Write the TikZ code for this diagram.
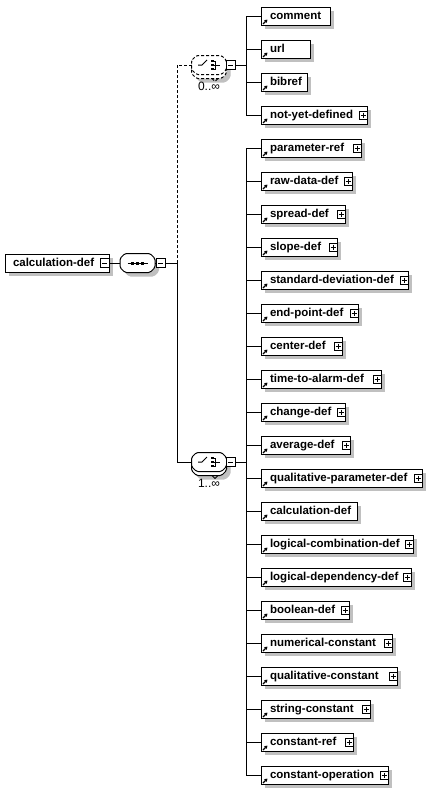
\documentclass[tikz,border=0pt]{standalone}
\usepackage{fontspec}
\setmainfont{Liberation Sans}
\usetikzlibrary{arrows.meta,shadows}
\definecolor{shadowgray}{RGB}{192,192,192}

\newcommand\xelem[5]{%
  \node[elembox, minimum width={#3-261}] (#1) at (261,#2) {};
  \node[elemtext] (#1-t) at (270,#2+3) {#4};
  \draw[refarrow] (263,#2+8) -- (267.5,#2+3.5);
  \draw (#1.west) -- (#1.west -| #5);
}
\newcommand\xelemp[5]{%
  \xelem{#1}{#2}{#3}{#4}{#5}%
  \node[btnplus] (#1-b) at (#3-4,#2) {};
}

\begin{document}
\begin{tikzpicture}[x=1pt,y=-1pt,line width=1pt,
  every node/.style={inner sep=0pt, outer sep=0pt},
  elembox/.style={draw=black, fill=white, minimum height=18pt, anchor=west,
    general shadow={shadow xshift=4pt, shadow yshift=-4pt, fill=shadowgray}},
  elemtext/.style={anchor=base west, font=\fontsize{11.5}{13}\selectfont\bfseries},
  refarrow/.style={line width=1.2pt, -{Triangle[length=3pt,width=3.5pt]}},
  btnbase/.style={draw=black, fill=white, minimum size=8pt, line width=1pt},
  btnplus/.style={btnbase, path picture={
      \draw[line width=1pt] ([xshift=1.5pt]path picture bounding box.west) -- ([xshift=-1.5pt]path picture bounding box.east);
      \draw[line width=1pt] ([yshift=-1.5pt]path picture bounding box.north) -- ([yshift=1.5pt]path picture bounding box.south);}},
  btnminus/.style={btnbase, minimum size=9pt, path picture={
      \draw[line width=1pt] ([xshift=2pt]path picture bounding box.west) -- ([xshift=-2pt]path picture bounding box.east);}},
  compnode/.style={minimum width=35pt, minimum height=19pt},
  optline/.style={dash pattern=on 3pt off 2pt},
  multlabel/.style={font=\fontsize{12}{14}\selectfont},
  octagon/.pic={\path[pic actions, rounded corners=1.5pt] (-17.5,-4.5) -- (-12.5,-9.5) -- (12.5,-9.5) -- (17.5,-4.5) -- (17.5,4.5) -- (12.5,9.5) -- (-12.5,9.5) -- (-17.5,4.5) -- cycle;},
  seqsym/.pic={\draw (-10,0) -- (10,0);
     \fill (-6.5,-1.5) rectangle (-3.5,1.5);
     \fill (-1.5,-1.5) rectangle (1.5,1.5);
     \fill (3.5,-1.5) rectangle (6.5,1.5);},
  choicesym/.pic={\draw (-11,0) -- (-7,0) -- (-2,-5);
     \fill (2,-5.25) rectangle (4.5,-2.75);
     \fill (2,-1.25) rectangle (4.5,1.25);
     \fill (2,2.75) rectangle (4.5,5.25);
     \draw (4.5,-4) -- (6.5,-4) -- (6.5,4) -- (4.5,4);
     \draw (4.5,0) -- (11,0);},
  notch/.pic={\path[pic actions] (-3,0) -- (0,3) -- (3,0);}
]
\useasboundingbox (0,0) rectangle (442,790);

% root element
\node[elembox, minimum width=104pt] (root) at (5,263) {};
\node[elemtext] (root-t) at (13,266.5) {calculation-def};
\node[btnminus] (root-b) at (104.5,263) {};

% sequence compositor
\pic[fill=shadowgray] at (141.5,267) {octagon};
\pic[draw=black, fill=white] at (137.5,263) {octagon};
\node[compnode] (seq) at (137.5,263) {};
\pic at (137.5,263) {seqsym};
\node[btnminus] (seq-b) at (160.5,263) {};

% sequence bus coordinates
\coordinate (sb-mid) at (177,263);
\coordinate (sb-top) at (177,65);
\coordinate (sb-bot) at (177,462);

% choice 1 (optional, 0..unbounded)
\pic[fill=shadowgray] at (213,73) {octagon};
\pic[draw=black, fill=white, optline] at (209,69) {octagon};
\pic[draw=black, fill=white, optline] at (209,65) {octagon};
\pic[draw=black, optline] at (215,78.5) {notch};
\node[compnode] (ch1) at (209,65) {};
\pic at (209,65) {choicesym};
\node[btnminus] (ch1-b) at (230.5,65) {};
\node[multlabel] (ch1-m) at (209,86) {0..∞};

% choice 2 (1..unbounded)
\pic[fill=shadowgray] at (213,470) {octagon};
\pic[draw=black, fill=white] at (209,466) {octagon};
\pic[draw=black, fill=white] at (209,462) {octagon};
\pic[draw=black] at (215,475.5) {notch};
\node[compnode] (ch2) at (209,462) {};
\pic at (209,462) {choicesym};
\node[btnminus] (ch2-b) at (230.5,462) {};
\node[multlabel] (ch2-m) at (209,483) {1..∞};

% choice buses
\coordinate (b1) at (246,65);
\coordinate (b2) at (246,462);

% connectors on the left
\draw (root-b.east) -- (seq.west);
\draw (seq.east) -- (seq-b.west);
\draw (seq-b.east) -- (sb-mid);
\draw[optline] (sb-mid) -- (sb-top) -- (ch1.west);
\draw (sb-mid) -- (sb-bot) -- (ch2.west);
\draw (ch1-b.east) -- (b1);
\draw (ch2-b.east) -- (b2);

% elements of choice 1
\xelem{e0}{16}{330}{comment}{b1}
\xelem{e1}{49}{310}{url}{b1}
\xelem{e2}{82}{307}{bibref}{b1}
\xelemp{e3}{115}{367}{not-yet-defined}{b1}

% elements of choice 2
\xelemp{e4}{148}{361}{parameter-ref}{b2}
\xelemp{e5}{181}{352}{raw-data-def}{b2}
\xelemp{e6}{214}{345}{spread-def}{b2}
\xelemp{e7}{247}{337}{slope-def}{b2}
\xelemp{e8}{280}{408}{standard-deviation-def}{b2}
\xelemp{e9}{313}{358}{end-point-def}{b2}
\xelemp{e10}{346}{342}{center-def}{b2}
\xelemp{e11}{379}{381}{time-to-alarm-def}{b2}
\xelemp{e12}{412}{345}{change-def}{b2}
\xelemp{e13}{445}{350}{average-def}{b2}
\xelemp{e14}{478}{422}{qualitative-parameter-def}{b2}
\xelem{e15}{511}{357}{calculation-def}{b2}
\xelemp{e16}{544}{413}{logical-combination-def}{b2}
\xelemp{e17}{577}{411}{logical-dependency-def}{b2}
\xelemp{e18}{610}{349}{boolean-def}{b2}
\xelemp{e19}{643}{392}{numerical-constant}{b2}
\xelemp{e20}{676}{397}{qualitative-constant}{b2}
\xelemp{e21}{709}{370}{string-constant}{b2}
\xelemp{e22}{742}{353}{constant-ref}{b2}
\xelemp{e23}{775}{388}{constant-operation}{b2}

% vertical buses
\draw (e0.west -| b1) -- (e3.west -| b1);
\draw (e4.west -| b2) -- (e23.west -| b2);
\end{tikzpicture}
\end{document}
